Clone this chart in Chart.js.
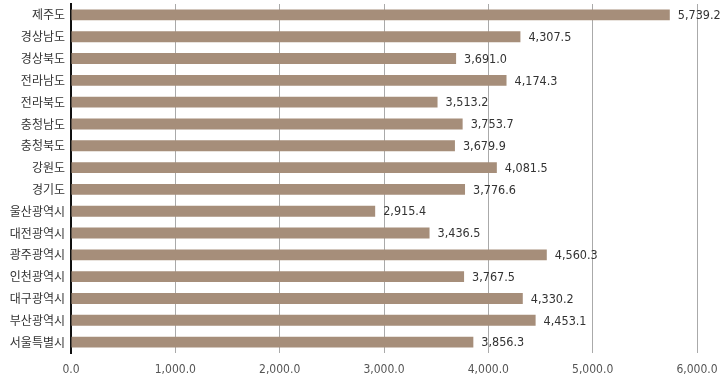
<!DOCTYPE html>
<html><head><meta charset="utf-8">
<script src="https://cdn.jsdelivr.net/npm/chart.js@4"></script>
<style>html,body{margin:0;padding:0;background:#fff}#wrap{width:728px;height:385px}</style>
</head><body><div id="wrap"><canvas id="c" width="728" height="385"></canvas></div>
<script>
const categories = ["제주도","경상남도","경상북도","전라남도","전라북도","충청남도","충청북도","강원도","경기도","울산광역시","대전광역시","광주광역시","인천광역시","대구광역시","부산광역시","서울특별시"];
const values = [5739.2,4307.5,3691.0,4174.3,3513.2,3753.7,3679.9,4081.5,3776.6,2915.4,3436.5,4560.3,3767.5,4330.2,4453.1,3856.3];
const xTicks = [0,1000,2000,3000,4000,5000,6000];

const fmt = v => v.toLocaleString('en-US',{minimumFractionDigits:1,maximumFractionDigits:1});
const numFont = '"DejaVu Sans Condensed","Liberation Sans Narrow","Roboto",sans-serif';

const labelPlugin = {
  id:'vlabels',
  afterDatasetsDraw(chart){
    const ctx = chart.ctx;
    const meta = chart.getDatasetMeta(0);
    ctx.save();
    ctx.font = '12.5px ' + numFont;
    ctx.fillStyle = '#333';
    ctx.textAlign = 'left';
    ctx.textBaseline = 'middle';
    meta.data.forEach((bar,i)=>{
      ctx.fillText(fmt(values[i]), bar.x + 8, bar.y + 1);
    });
    ctx.restore();
  }
};

new Chart(document.getElementById('c'),{
  type:'bar',
  data:{labels:categories,datasets:[{data:values,backgroundColor:'#a68e7a',borderWidth:0,barPercentage:0.5,categoryPercentage:1}]},
  options:{
    indexAxis:'y',responsive:false,animation:false,
    layout:{padding:{top:4,right:31,left:0,bottom:0}},
    plugins:{legend:{display:false},tooltip:{enabled:false}},
    scales:{
      x:{min:0,max:6000,
        afterBuildTicks(s){s.ticks = xTicks.map(v=>({value:v}));},
        afterFit(s){s.height = 32;},
        ticks:{callback:v=>fmt(v),color:'#555',font:{family:numFont,size:12},maxRotation:0,padding:10},
        grid:{color:'#aaa',lineWidth:1,drawTicks:false},
        border:{display:false}
      },
      y:{
        afterFit(s){s.width = 71; s.paddingTop = 0; s.paddingBottom = 0;},
        ticks:{color:'#333',font:{family:'"Noto Sans CJK KR",sans-serif',size:12},padding:6,autoSkip:false},
        grid:{display:false,drawTicks:false},
        border:{display:true,color:'#111',width:2}
      }
    }
  },
  plugins:[labelPlugin]
});
</script></body></html>
